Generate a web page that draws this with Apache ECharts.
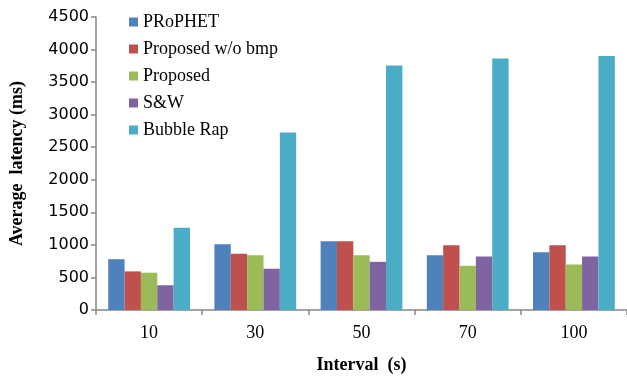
<!DOCTYPE html>
<html lang="en">
<head>
    <meta charset="UTF-8">
    <title>Average latency</title>
    <style>
        html, body { margin: 0; padding: 0; background: #fff; }
        #main { width: 627px; height: 379px; }
    </style>
</head>
<body>
<div id="main"></div>
<script src="https://cdn.jsdelivr.net/npm/echarts@6/dist/echarts.min.js"></script>
<script>
    var intervals = ['10', '30', '50', '70', '100'];
    var prophet = [780, 1008, 1055, 841, 886];
    var proposedNoBmp = [593, 862, 1055, 993, 993];
    var proposed = [573, 841, 841, 679, 699];
    var sw = [380, 634, 740, 821, 821];
    var bubbleRap = [1262, 2726, 3755, 3861, 3902];

    var names = ['PRoPHET', 'Proposed w/o bmp', 'Proposed', 'S&W', 'Bubble Rap'];
    var colors = ['#4F81BD', '#C0504D', '#9BBB59', '#8064A2', '#4BACC6'];
    var values = [prophet, proposedNoBmp, proposed, sw, bubbleRap];

    var serif = '"Liberation Serif", "Times New Roman", serif';
    var axisGray = '#868686';

    var chart = echarts.init(document.getElementById('main'));
    chart.setOption({
        animation: false,
        color: colors,
        legend: {
            orient: 'vertical',
            left: 124,
            top: 8,
            icon: 'rect',
            itemWidth: 9,
            itemHeight: 9,
            itemGap: 9,
            data: names,
            textStyle: {
                fontFamily: serif,
                fontSize: 18,
                lineHeight: 18,
                color: '#000'
            }
        },
        grid: {
            left: 94,
            top: 17,
            width: 535,
            height: 296
        },
        xAxis: {
            type: 'category',
            data: intervals,
            name: 'Interval  (s)',
            nameLocation: 'middle',
            nameGap: 46,
            nameTextStyle: {
                fontFamily: serif,
                fontSize: 18,
                fontWeight: 'bold',
                color: '#000'
            },
            axisLine: { lineStyle: { color: axisGray, width: 1.5 } },
            axisTick: { show: true, length: 5, lineStyle: { color: axisGray, width: 1.5 } },
            axisLabel: {
                fontFamily: serif,
                fontSize: 18,
                color: '#000',
                margin: 14
            }
        },
        yAxis: {
            type: 'value',
            min: 0,
            max: 4500,
            interval: 500,
            name: 'Average  latency (ms)',
            nameLocation: 'middle',
            nameGap: 70,
            nameTextStyle: {
                fontFamily: serif,
                fontSize: 18,
                fontWeight: 'bold',
                color: '#000'
            },
            axisLine: { show: true, lineStyle: { color: axisGray, width: 1.5 } },
            axisTick: { show: true, length: 5, lineStyle: { color: axisGray, width: 1.5 } },
            splitLine: { show: false },
            axisLabel: {
                fontFamily: '"DejaVu Sans", Verdana, sans-serif',
                fontSize: 16,
                color: '#000',
                margin: 7,
                formatter: function (v) { return String(v); }
            }
        },
        series: names.map(function (name, i) {
            return {
                name: name,
                type: 'bar',
                data: values[i],
                barGap: '0%',
                barCategoryGap: '23%',
                itemStyle: { color: colors[i] }
            };
        })
    });
</script>
</body>
</html>
